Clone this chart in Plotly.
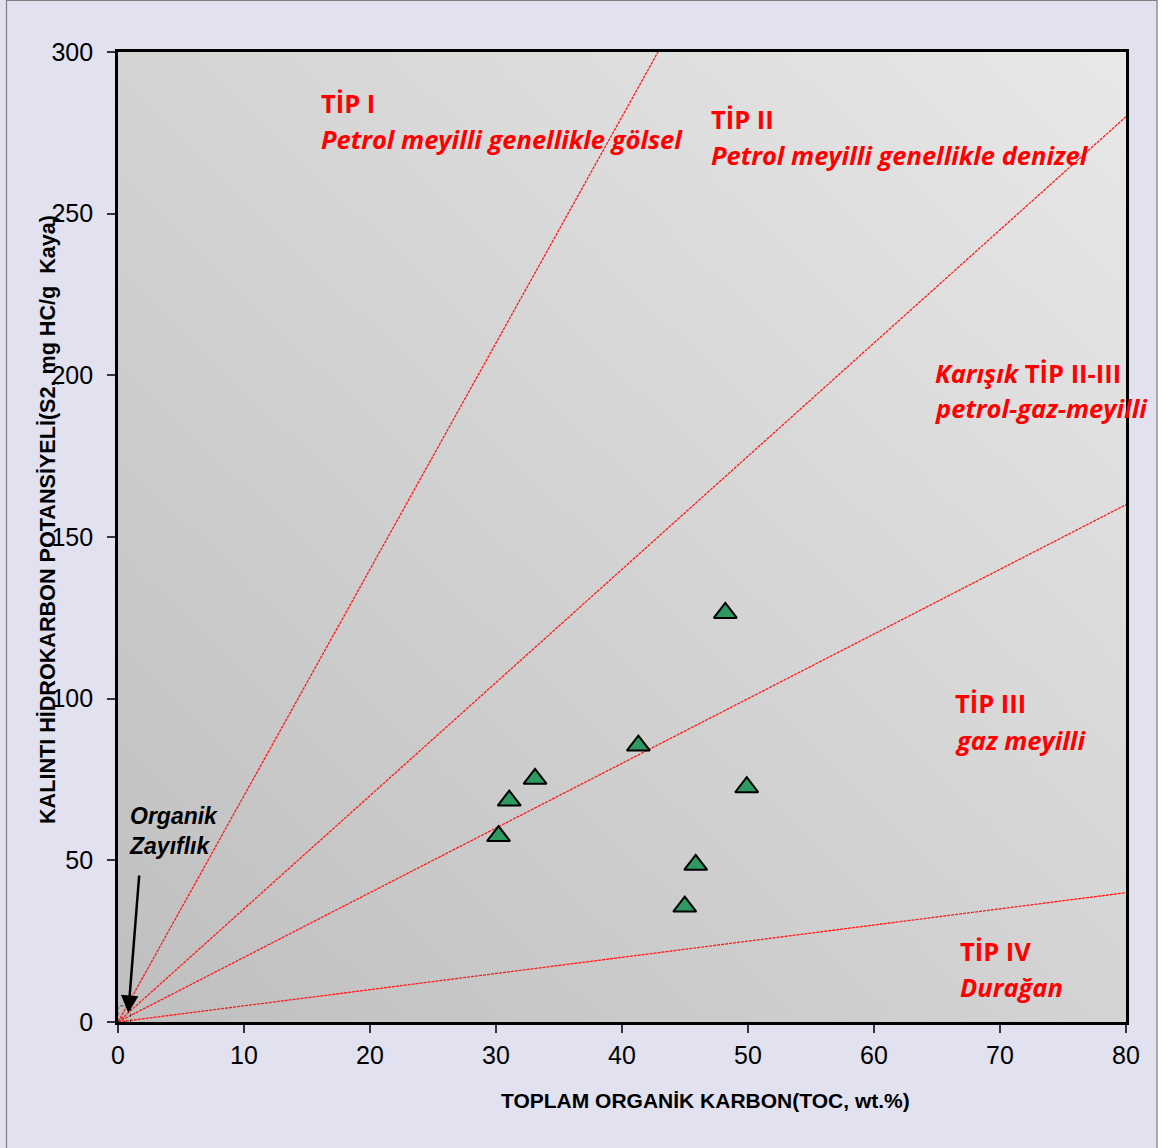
import base64
import plotly.graph_objects as go

# ---------------- data ----------------
toc = [48.2, 41.3, 33.1, 31.05, 30.2, 49.9, 45.85, 44.98]
s2 = [126.5, 85.5, 75.2, 68.5, 57.5, 72.6, 48.6, 35.7]

# kerogen-type boundary lines: S2 = slope * TOC (HI 700, 350, 200, 50)
line_slopes = [7.0, 3.5, 2.0, 0.5]

x_ticks = [0, 10, 20, 30, 40, 50, 60, 70, 80]
y_ticks = [0, 50, 100, 150, 200, 250, 300]

x_title = "TOPLAM ORGANİK KARBON(TOC, wt.%)"
y_title = "KALINTI HİDROKARBON POTANSİYELİ(S2, mg HC/g  Kaya)"

zone_labels = [
    ("<b>TİP I</b>", "<b><i>Petrol meyilli genellikle gölsel</i></b>"),
    ("<b>TİP II</b>", "<b><i>Petrol meyilli genellikle denizel</i></b>"),
    ("<b><i>Karışık</i> TİP II-III</b>", "<b><i>petrol-gaz-meyilli</i></b>"),
    ("<b>TİP III</b>", "<b><i>gaz meyilli</i></b>"),
    ("<b>TİP IV</b>", "<b><i>Durağan</i></b>"),
]

# ---------------- geometry ----------------
W, H = 1170, 1148
L, R, T, B = 118, 1126, 52, 1022
XMAX, YMAX = 80, 300


def dx(px):
    return (px - L) / (R - L) * XMAX


def dy(py):
    return (B - py) / (B - T) * YMAX


def px_paper(px):
    return (px - L) / (R - L)


def py_paper(py):
    return (B - py) / (B - T)


fig = go.Figure()

# gradient background for the plot area (SVG data URI)
svg = (
    '<svg xmlns="http://www.w3.org/2000/svg" width="100" height="100" '
    'viewBox="0 0 100 100" preserveAspectRatio="none">'
    '<defs><linearGradient id="g" x1="0" y1="1" x2="1" y2="0">'
    '<stop offset="0" stop-color="#BFBFBF"/>'
    '<stop offset="1" stop-color="#E8E8E8"/>'
    '</linearGradient></defs>'
    '<rect x="0" y="0" width="100" height="100" fill="url(#g)"/></svg>'
)
src = "data:image/svg+xml;base64," + base64.b64encode(svg.encode()).decode()
fig.add_layout_image(dict(source=src, xref="paper", yref="paper", x=0, y=1,
                          sizex=1, sizey=1, sizing="stretch", layer="below",
                          xanchor="left", yanchor="top"))

# boundary lines
for k in line_slopes:
    xe = min(XMAX, YMAX / k)
    fig.add_trace(go.Scatter(x=[0, xe], y=[0, k * xe], mode="lines",
                             line=dict(color="#FF1A1A", width=1.3, dash="3px,1px"),
                             hoverinfo="skip", showlegend=False))

# samples
fig.add_trace(go.Scatter(x=toc, y=s2, mode="markers",
                         marker=dict(symbol="triangle-up", size=20, color="#2E9A62",
                                     line=dict(color="black", width=2)),
                         showlegend=False))

# small dotted box near the origin
fig.add_shape(type="rect", x0=0, x1=1, y0=0, y1=5, xref="x", yref="y",
              line=dict(color="#333333", width=1, dash="dot"))

annotations = []
red_font = dict(family="Open Sans", size=25.5, color="#FF0000")
label_pos = [
    (319, 103, 139),
    (709, 119, 155),
    (933, 373, 408),
    (953, 703, 740),
    (958, 951, 987),
]
for (l1, l2), (px, py1, py2) in zip(zone_labels, label_pos):
    annotations.append(dict(x=dx(px), y=dy(py1), xref="x", yref="y", text=l1,
                            showarrow=False, xanchor="left", yanchor="middle",
                            font=red_font))
    annotations.append(dict(x=dx(px), y=dy(py2), xref="x", yref="y", text=l2,
                            showarrow=False, xanchor="left", yanchor="middle",
                            font=red_font))

# Organik Zayıflık label and arrow
annotations.append(dict(x=dx(127), y=dy(831), xref="x", yref="y",
                        text="<b><i>Organik<br>Zayıflık</i></b>", showarrow=False,
                        xanchor="left", yanchor="middle", align="left",
                        font=dict(family="Liberation Sans", size=23, color="black")))
annotations.append(dict(x=dx(128.3), y=dy(1013), xref="x", yref="y",
                        ax=dx(139.3), ay=dy(874), axref="x", ayref="y",
                        text="", showarrow=True, arrowhead=2, arrowsize=1.4,
                        arrowwidth=2.5, arrowcolor="black"))

# axis titles
annotations.append(dict(x=px_paper(705), y=py_paper(1100), xref="paper", yref="paper",
                        text="<b>" + x_title + "</b>", showarrow=False,
                        xanchor="center", yanchor="middle",
                        font=dict(family="Liberation Sans", size=21, color="black")))
annotations.append(dict(x=px_paper(47), y=py_paper(520), xref="paper", yref="paper",
                        text="<b>" + y_title + "</b>", showarrow=False, textangle=-90,
                        xanchor="center", yanchor="middle",
                        font=dict(family="Liberation Sans", size=21.6, color="black")))

shapes = [
    # white page strips outside the lavender frame
    dict(type="rect", xref="paper", yref="paper", x0=px_paper(-5), x1=px_paper(6),
         y0=py_paper(1160), y1=py_paper(-5), fillcolor="white", line=dict(width=0),
         layer="below"),
    dict(type="rect", xref="paper", yref="paper", x0=px_paper(1157.5), x1=px_paper(1180),
         y0=py_paper(1160), y1=py_paper(-5), fillcolor="white", line=dict(width=0),
         layer="below"),
    # outer frame border
    dict(type="rect", xref="paper", yref="paper", x0=px_paper(6.5), x1=px_paper(1157),
         y0=py_paper(1152), y1=py_paper(0.5), line=dict(color="#7F7F7F", width=1.2),
         fillcolor="rgba(0,0,0,0)"),
]

axis_common = dict(showgrid=False, zeroline=False, showline=True, linecolor="black",
                   linewidth=2.8, mirror=True, ticks="outside", ticklen=8,
                   tickwidth=1.5, tickcolor="#333333",
                   tickfont=dict(family="Liberation Sans", size=25, color="black"))

fig.update_layout(
    width=W, height=H,
    margin=dict(l=L, r=W - R, t=T, b=H - B, autoexpand=False),
    paper_bgcolor="#E1E1EF",
    plot_bgcolor="rgba(0,0,0,0)",
    xaxis=dict(range=[0, XMAX], tickvals=x_ticks, ticklabelstandoff=1, **axis_common),
    yaxis=dict(range=[0, YMAX], tickvals=y_ticks, ticklabelstandoff=9, **axis_common),
    annotations=annotations,
    shapes=shapes,
    showlegend=False,
)

fig.write_html("out.html")
